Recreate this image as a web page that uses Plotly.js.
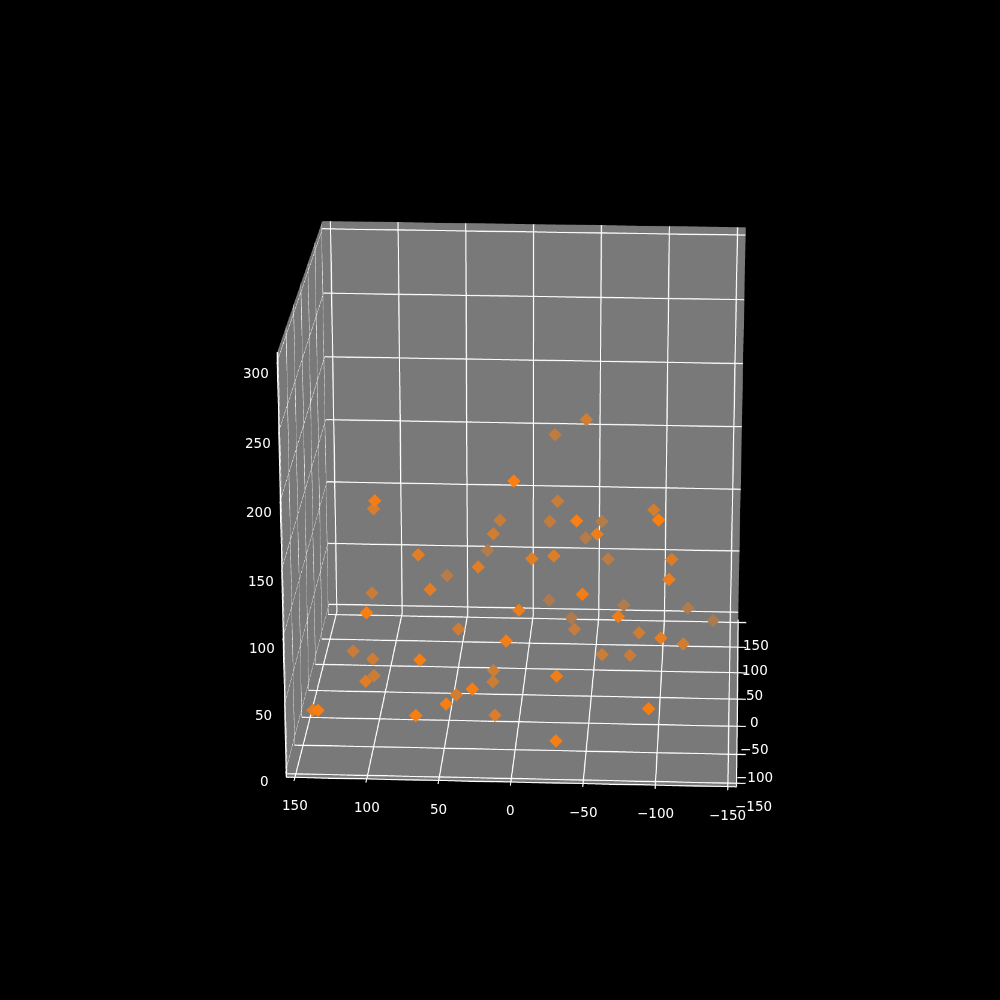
<!DOCTYPE html>
<html>
<head>
<meta charset="utf-8">
<script src="https://cdn.plot.ly/plotly-3.0.1.min.js"></script>
<style>
html, body { margin: 0; width: 1000px; height: 1000px; overflow: hidden; background: #000; }
#frame { position: absolute; left: 0; top: 0; width: 1000px; height: 1000px; overflow: hidden; }
#chart { position: absolute; left: -1205px; top: -1233px; width: 3455px; height: 3455px; }
</style>
</head>
<body>
<div id="frame"><div id="chart"></div></div>
<script>
// Values
const xs = [-43, -18, 2, 101, 108, -22, 20, -16, -42, -53, -93, -99, 23, -55, -41, 32, 73, -8, -23, -59, -107, 30, 61, -106, 64, 113, -46, -14, -70, -118, 104, -1, -31, -71, -137, -36, 47, -84, -101, 6, -116, 126, -57, -77, 109, 66, 21, -29, 109, 110, 22, 29, 47, 47, -94, 146, 135, 68, 17, -30];
const ys = [63, 114, -79, -56, 11, 69, 64, 77, -89, 119, 38, -103, 33, -51, 115, 111, -28, -29, -15, 82, -2, -32, 91, -62, -37, 45, -81, 113, 111, 110, -99, -71, 108, -72, 121, 36, 7, 7, -64, -107, 4, 29, 15, 29, 0, -111, -3, -102, 9, -47, 7, -119, -19, -123, -124, -69, -139, -126, -55, -133];
const zs = [186, 156, 189, 164, 133, 120, 106, 101, 164, 86, 126, 171, 107, 140, 74, 64, 113, 112, 109, 70, 103, 106, 51, 111, 90, 54, 106, 24, 22, 21, 96, 89, 12, 86, 7, 32, 42, 42, 67, 80, 35, 14, 21, 15, 20, 66, 14, 52, 3, 22, 1, 48, 1, 38, 38, 8, 38, 30, 1, 16];

const xTicks = [-150, -100, -50, 0, 50, 100, 150];
const yTicks = [-150, -100, -50, 0, 50, 100, 150];
const zTicks = [0, 50, 100, 150, 200, 250, 300];

const X_RANGE = [156, -156];
const Y_RANGE = [-156, 156];
const Z_RANGE = [-6, 306];

const PANE = [121, 121, 121];
const ORANGE = [255, 127, 14];

// depth shading: far points fade into the pane
function shade(y, z) {
    const t = (y + 156) / 312;
    const zf = (z + 6) / 312;
    const s = Math.min(1, Math.max(0, (0.92 * t - 0.38 * zf + 0.05) / 0.95));
    const a = 1 - 0.7 * s;
    const c = ORANGE.map((v, i) => Math.round(v * a + PANE[i] * (1 - a)));
    return `rgb(${c[0]},${c[1]},${c[2]})`;
}

function axis(range, ticks) {
    return {
        range: range,
        tickmode: 'array',
        tickvals: ticks,
        title: { text: '' },
        showticklabels: false,
        showbackground: true,
        backgroundcolor: 'rgb(121,121,121)',
        showgrid: true,
        gridcolor: '#ffffff',
        gridwidth: 2,
        zeroline: false,
        showline: true,
        linecolor: '#ffffff',
        linewidth: 2,
        ticks: 'outside',
        ticklen: 6,
        tickcolor: '#ffffff',
        tickwidth: 2,
        showspikes: false
    };
}

// tick labels sit away from the axis lines, down and out like the original
function tickLabel(x, y, z, value, dx, dy) {
    return {
        x: x, y: y, z: z,
        text: String(value).replace('-', '\u2212'),
        showarrow: false,
        xanchor: 'center',
        yanchor: 'middle',
        xshift: dx,
        yshift: dy,
        font: { family: 'DejaVu Sans', size: 13.5, color: '#ffffff' }
    };
}

// just inside the front edge, annotations exactly on it get dropped
const FRONT = -155.5;

const annotations = [
    ...xTicks.map(v => tickLabel(v, FRONT, Z_RANGE[0] + 0.5, v, 0, -29)),
    ...yTicks.map(v => tickLabel(-155.5, v, Z_RANGE[0] + 0.5, v, 18, -23)),
    ...zTicks.map(v => tickLabel(155.5, FRONT, v, v, -22, -12))
];

const trace = {
    type: 'scatter3d',
    mode: 'markers',
    x: xs,
    y: ys,
    z: zs,
    hoverinfo: 'skip',
    marker: {
        symbol: 'diamond',
        size: 3.7,
        color: ys.map((y, i) => shade(y, zs[i])),
        line: { width: 0 }
    }
};

const layout = {
    width: 3455,
    height: 3455,
    margin: { l: 0, r: 0, t: 0, b: 0 },
    paper_bgcolor: '#000000',
    showlegend: false,
    scene: {
        domain: { x: [0, 1], y: [0, 1] },
        bgcolor: '#000000',
        aspectmode: 'manual',
        aspectratio: { x: 1.006, y: 1, z: 1 },
        camera: {
            eye: { x: 0.47, y: -9.0, z: 3.31 },
            center: { x: 0, y: 0, z: 0 },
            up: { x: 0, y: 0, z: 1 }
        },
        xaxis: axis(X_RANGE, xTicks),
        yaxis: axis(Y_RANGE, yTicks),
        zaxis: axis(Z_RANGE, zTicks),
        annotations: annotations
    }
};

Plotly.newPlot('chart', [trace], layout, { displayModeBar: false, responsive: false });
</script>
</body>
</html>
